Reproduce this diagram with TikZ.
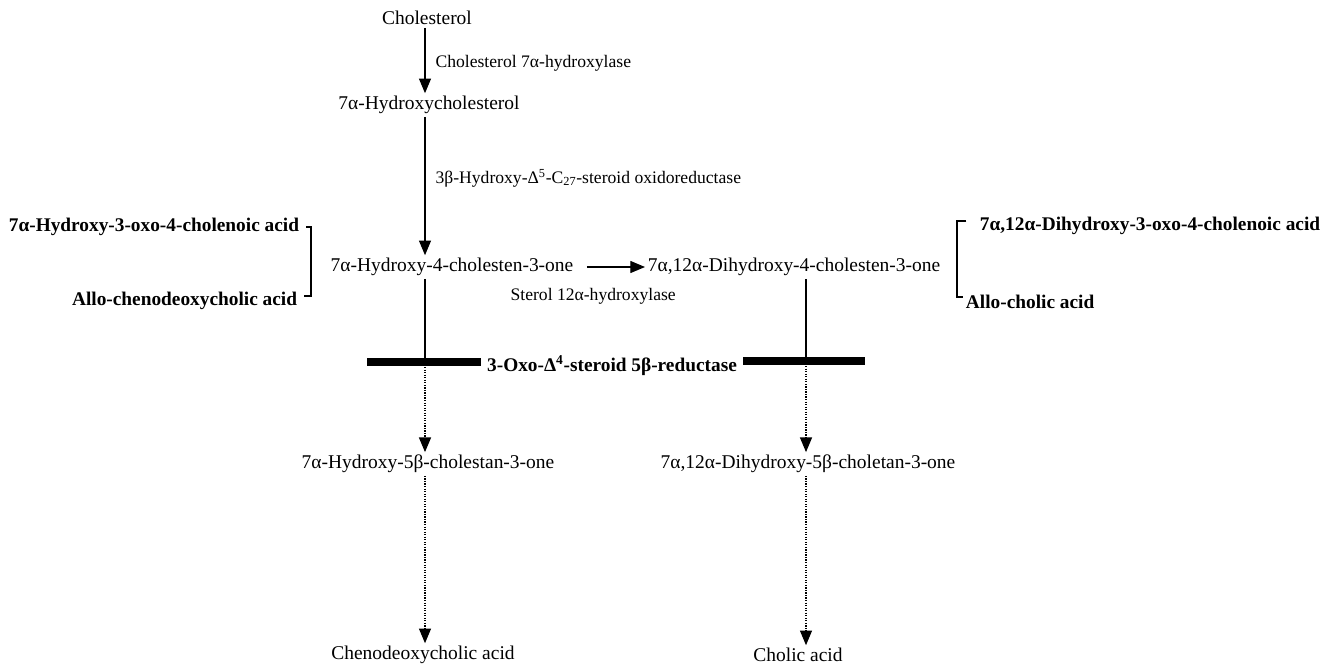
\documentclass[tikz,border=0pt]{standalone}
\usepackage{fontspec}
\setmainfont{Liberation Serif}
\usetikzlibrary{arrows.meta,positioning}
\tikzset{
  cpd/.style={inner sep=2pt,font=\fontsize{14.6}{17}\selectfont},
  side/.style={inner sep=2pt,font=\fontsize{14.5}{17}\selectfont\bfseries},
  enz/.style={inner sep=1pt,font=\fontsize{13.2}{15}\selectfont},
  flow/.style={line width=0.9pt,-{Triangle[width=9pt,length=11pt]}},
  blocked/.style={line width=0.9pt,densely dotted,-{Triangle[width=9pt,length=11pt]}},
  bar/.style={line width=6.5pt},
}
\begin{document}
\begin{tikzpicture}[x=0.75pt,y=-0.75pt]
  \useasboundingbox (0,0) rectangle (1342,667);
  % main column
  \node[cpd] (chol) at (427,18) {Cholesterol};
  \node[cpd] (hchol) at (429,105) {7α-Hydroxycholesterol};
  \node[cpd] (hone) at (452,267) {7α-Hydroxy-4-cholesten-3-one};
  \node[cpd,anchor=west] (dione) at (645,267) {7α,12α-Dihydroxy-4-cholesten-3-one};
  \node[cpd] (hbeta) at (428,464) {7α-Hydroxy-5β-cholestan-3-one};
  \node[cpd] (dbeta) at (808,464) {7α,12α-Dihydroxy-5β-choletan-3-one};
  \node[cpd] (cdca) at (423,655) {Chenodeoxycholic acid};
  \node[cpd] (ca) at (798,655) {Cholic acid};
  % side products
  \node[side,anchor=east] (oxoA) at (302,227) {7α-Hydroxy-3-oxo-4-cholenoic acid};
  \node[side,anchor=east] (alloA) at (300,301) {Allo-chenodeoxycholic acid};
  \node[side,anchor=west] (oxoB) at (977,226) {7α,12α-Dihydroxy-3-oxo-4-cholenoic acid};
  \node[side,anchor=west] (alloB) at (963,302) {Allo-cholic acid};
  % enzymes
  \node[enz,anchor=west] (cyp7) at (434,63) {Cholesterol 7α-hydroxylase};
  \node[enz,anchor=west] (hsd) at (434,178) {3β-Hydroxy-Δ\textsuperscript{5}-C\textsubscript{27}-steroid oxidoreductase};
  \node[enz,anchor=west] (cyp8) at (509,296) {Sterol 12α-hydroxylase};
  \node[side,inner sep=1pt] (red) at (612,366) {3-Oxo-Δ\textsuperscript{4}-steroid 5β-reductase};
  % block bars
  \coordinate (cutL) at (425,362);
  \coordinate (cutR) at (806,361);
  \draw[bar] (367,362) -- (481,362);
  \draw[bar] (743,361) -- (865,361);
  % arrows
  \draw[flow] (chol.south -| cutL) -- (hchol.north -| cutL);
  \draw[flow] (hchol.south -| cutL) -- (hone.north -| cutL);
  \draw[flow,shorten <=8pt] (hone.east) -- (dione.west);
  \draw[line width=0.9pt] (hone.south -| cutL) -- (cutL);
  \draw[blocked] (cutL) -- (hbeta.north -| cutL);
  \draw[line width=0.9pt] (dione.south -| cutR) -- (cutR);
  \draw[blocked] (cutR) -- (dbeta.north -| cutR);
  \draw[blocked] (hbeta.south -| cutL) -- (cdca.north -| cutL);
  \draw[blocked] (dbeta.south -| cutR) -- (ca.north -| cutR);
  % brackets
  \draw[line width=0.9pt] ([xshift=3pt]oxoA.east) -| (311,296) -- ([xshift=3pt]alloA.east |- 0,296);
  \draw[line width=0.9pt] ([xshift=-8pt]oxoB.west |- 0,221) -| (957,297) -- (alloB.west |- 0,297);
\end{tikzpicture}
\end{document}
